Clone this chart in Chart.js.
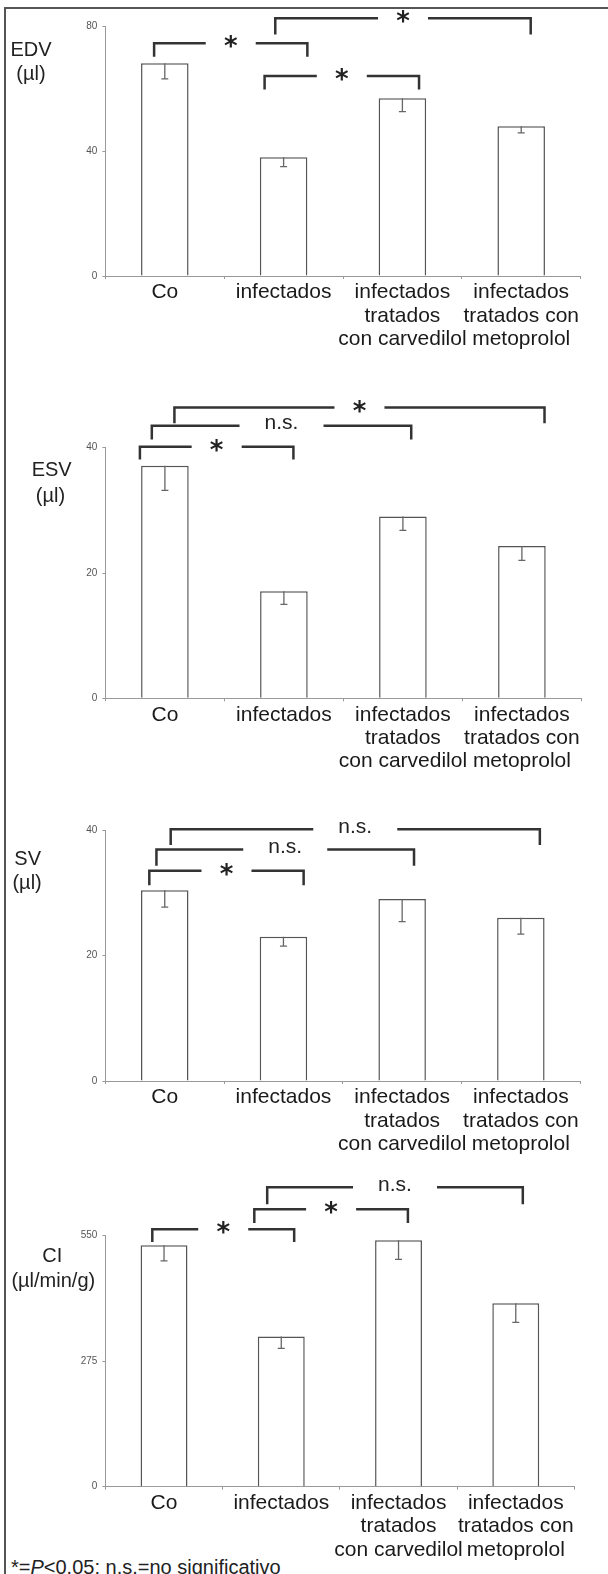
<!DOCTYPE html>
<html>
<head>
<meta charset="utf-8">
<script src="https://cdn.jsdelivr.net/npm/chart.js@4.4.0/dist/chart.umd.min.js"></script>
<style>
  html, body { margin: 0; padding: 0; background: #fff; }
  #page { position: relative; width: 608px; height: 1574px; overflow: hidden;
          font-family: "Liberation Sans", Arial, sans-serif; color: #222; }
  #frame { position: absolute; left: 4px; top: 7px; width: 700px; height: 1700px;
           border-left: 2px solid #555; border-top: 2px solid #555; }
  canvas { position: absolute; left: 0; }
  .ylab { position: absolute; width: 120px; text-align: center; font-size: 20px; line-height: 24px; }
  #note { position: absolute; left: 11px; top: 1555px; font-size: 20px; line-height: 24px; white-space: nowrap; }
</style>
</head>
<body>
<div id="page">
  <div id="frame"></div>
  <div id="note">*=<i>P</i>&lt;0.05; n.s.=no significativo</div>
</div>
<script>
// groups on the x axis
const groups = [
    'Co',
    'infectados',
    ['infectados', 'tratados', 'con carvedilol'],
    ['infectados', 'tratados con', 'metoprolol']
];

// means and error (SEM) per group
const edvMeans = [68.1, 38.0, 56.9, 47.9];
const edvErr   = [5.0, 3.0, 4.3, 2.1];
const esvMeans = [37.1, 17.1, 29.0, 24.3];
const esvErr   = [3.9, 2.1, 2.2, 2.3];
const svMeans  = [30.4, 23.0, 29.0, 26.0];
const svErr    = [2.7, 1.5, 3.6, 2.6];
const ciMeans  = [529, 329, 540, 402];
const ciErr    = [34, 26, 42, 42];

// y tick values
const edvTicks = [0, 40, 80];
const esvTicks = [0, 20, 40];
const svTicks  = [0, 20, 40];
const ciTicks  = [0, 275, 550];

// significance brackets: from/to group (fractional index), level and leg end in data units
const edvBrackets = [
    { from: -0.09, to: 1.20, level: 74.5, leg: 70.2, text: '*' },
    { from: 0.84, to: 2.14, level: 64.0, leg: 59.7, text: '*' },
    { from: 0.93, to: 3.08, level: 82.5, leg: 77.3, text: '*' }
];
const esvBrackets = [
    { from: -0.21, to: 1.08, level: 40.15, leg: 38.1, text: '*' },
    { from: -0.11, to: 2.07, level: 43.5, leg: 41.3, text: 'n.s.' },
    { from: 0.08, to: 3.19, level: 46.4, leg: 43.9, text: '*' }
];
const svBrackets = [
    { from: -0.13, to: 1.17, level: 33.5, leg: 31.2, text: '*' },
    { from: -0.07, to: 2.10, level: 36.9, leg: 34.3, text: 'n.s.' },
    { from: 0.05, to: 3.16, level: 40.1, leg: 37.6, text: 'n.s.' }
];
const ciBrackets = [
    { from: -0.10, to: 1.11, level: 564, leg: 536, text: '*' },
    { from: 0.77, to: 2.08, level: 608, leg: 578, text: '*' },
    { from: 0.88, to: 3.06, level: 656, leg: 619, text: 'n.s.' }
];

Chart.defaults.font.family = '"Liberation Sans", Arial, sans-serif';

const errorBarPlugin = {
    id: 'errorBars',
    afterDatasetsDraw(chart, args, opts) {
        const { ctx, scales: { y } } = chart;
        const meta = chart.getDatasetMeta(0);
        const means = chart.data.datasets[0].data;
        ctx.save();
        ctx.strokeStyle = '#666';
        ctx.lineWidth = 1.3;
        means.forEach((m, i) => {
            const px = meta.data[i].x;
            const top = y.getPixelForValue(m);
            const bot = y.getPixelForValue(m - opts.errors[i]);
            ctx.beginPath();
            ctx.moveTo(px, top);
            ctx.lineTo(px, bot);
            ctx.moveTo(px - 3.5, bot);
            ctx.lineTo(px + 3.5, bot);
            ctx.stroke();
        });
        ctx.restore();
    }
};

const bracketPlugin = {
    id: 'brackets',
    afterDraw(chart, args, opts) {
        const { ctx, scales: { x, y } } = chart;
        ctx.save();
        ctx.strokeStyle = '#333';
        ctx.fillStyle = '#222';
        ctx.lineWidth = 2.5;
        ctx.lineJoin = 'miter';
        opts.items.forEach(b => {
            const x1 = x.getPixelForValue(b.from);
            const x2 = x.getPixelForValue(b.to);
            const yl = y.getPixelForValue(b.level);
            const yg = y.getPixelForValue(b.leg);
            const mid = (x1 + x2) / 2;
            const star = b.text === '*';
            const half = star ? 25 : 42;
            ctx.beginPath();
            ctx.moveTo(x1, yg);
            ctx.lineTo(x1, yl);
            ctx.lineTo(mid - half, yl);
            ctx.moveTo(mid + half, yl);
            ctx.lineTo(x2, yl);
            ctx.lineTo(x2, yg);
            ctx.stroke();

            ctx.font = star ? 'bold 26px "DejaVu Sans"' : '21px "Liberation Sans"';
            ctx.textAlign = 'center';
            ctx.textBaseline = 'alphabetic';
            const m = ctx.measureText(star ? '*' : 'n');
            const c = yl - (star ? 1.5 : 2);
            const base = c + (m.actualBoundingBoxAscent - m.actualBoundingBoxDescent) / 2;
            ctx.fillText(b.text, mid, base);
        });
        ctx.restore();
    }
};

const panels = [
    { top: 0,    height: 380, areaTop: 26,   areaBottom: 276,   areaRight: 580.6,
      means: edvMeans, errs: edvErr, ticks: edvTicks, brackets: edvBrackets,
      label: ['EDV', '(µl)'], labelPos: [[31, 49.3], [31, 72.7]] },
    { top: 380,  height: 400, areaTop: 67.7, areaBottom: 318.3, areaRight: 581.4,
      means: esvMeans, errs: esvErr, ticks: esvTicks, brackets: esvBrackets,
      label: ['ESV', '(µl)'], labelPos: [[51.7, 469.3], [50.4, 495]] },
    { top: 780,  height: 390, areaTop: 50,   areaBottom: 301,   areaRight: 580.2,
      means: svMeans, errs: svErr, ticks: svTicks, brackets: svBrackets,
      label: ['SV', '(µl)'], labelPos: [[27.7, 858.3], [27.1, 881.7]] },
    { top: 1170, height: 404, areaTop: 65.7, areaBottom: 316.7, areaRight: 574.4,
      means: ciMeans, errs: ciErr, ticks: ciTicks, brackets: ciBrackets,
      label: ['CI', '(µl/min/g)'], labelPos: [[52.3, 1255], [53.3, 1280]] }
];

const page = document.getElementById('page');

panels.forEach(p => {
    const canvas = document.createElement('canvas');
    canvas.width = 608;
    canvas.height = p.height;
    canvas.style.top = p.top + 'px';
    canvas.style.width = '608px';
    canvas.style.height = p.height + 'px';
    page.appendChild(canvas);

    p.label.forEach((t, i) => {
        const d = document.createElement('div');
        d.className = 'ylab';
        d.textContent = t;
        d.style.left = (p.labelPos[i][0] - 60) + 'px';
        d.style.top = (p.labelPos[i][1] - 12) + 'px';
        page.appendChild(d);
    });

    const yMax = p.ticks[p.ticks.length - 1];

    new Chart(canvas.getContext('2d'), {
        type: 'bar',
        data: {
            labels: groups,
            datasets: [{
                data: p.means,
                backgroundColor: '#ffffff',
                borderColor: '#555',
                borderWidth: 1.5,
                categoryPercentage: 1,
                barPercentage: 0.4
            }]
        },
        options: {
            responsive: false,
            devicePixelRatio: 1,
            animation: false,
            layout: {
                padding: { top: p.areaTop, left: 0, right: 608 - p.areaRight, bottom: 0 }
            },
            plugins: {
                legend: { display: false },
                tooltip: { enabled: false },
                errorBars: { errors: p.errs },
                brackets: { items: p.brackets }
            },
            scales: {
                x: {
                    offset: true,
                    grid: { drawOnChartArea: false, offset: true, tickLength: 3, color: '#999' },
                    border: { color: '#999', width: 1 },
                    ticks: {
                        autoSkip: false, maxRotation: 0, minRotation: 0, padding: 2,
                        color: '#1a1a1a',
                        font: { size: 21, lineHeight: 1.11 }
                    },
                    afterFit: s => { s.height = p.height - p.areaBottom; }
                },
                y: {
                    min: 0,
                    max: yMax,
                    afterBuildTicks: s => { s.ticks = p.ticks.map(v => ({ value: v })); },
                    grid: { drawOnChartArea: false, tickLength: 3, color: '#999' },
                    border: { color: '#999', width: 1 },
                    ticks: { padding: 5, color: '#555', font: { size: 10 } },
                    afterFit: s => { s.width = 105.4; }
                }
            }
        },
        plugins: [errorBarPlugin, bracketPlugin]
    });
});
</script>
</body>
</html>
